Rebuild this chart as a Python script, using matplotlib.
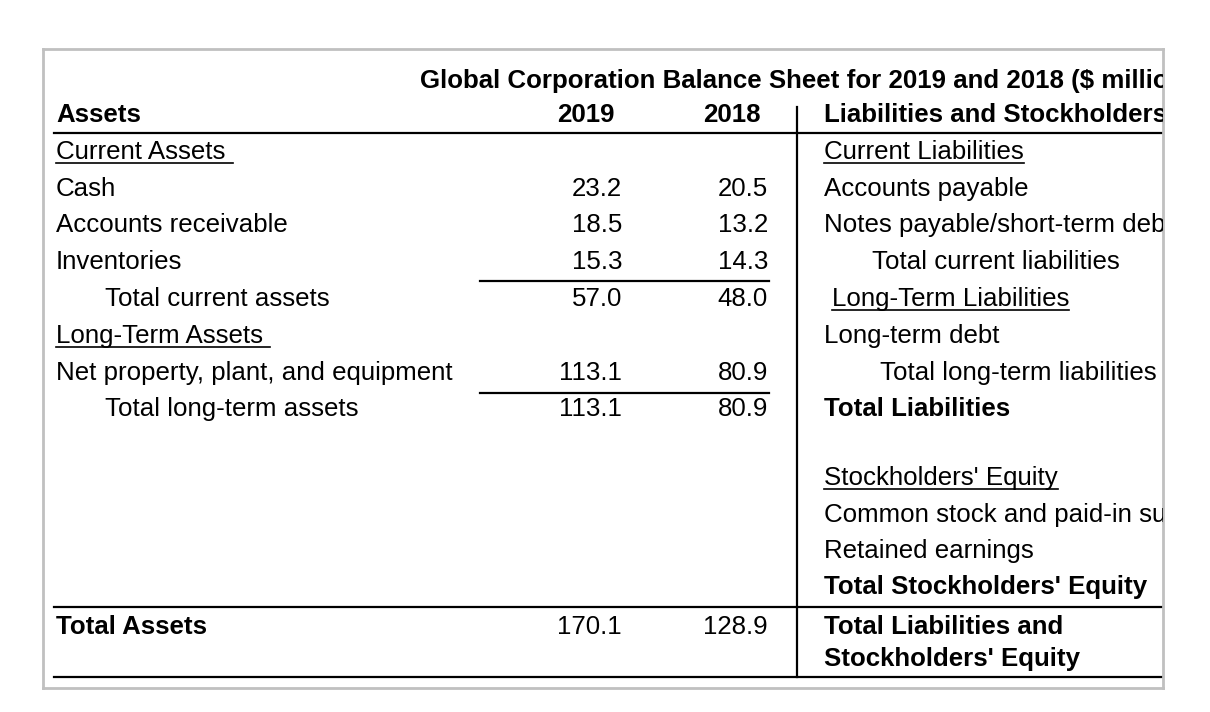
import matplotlib.pyplot as plt
from matplotlib.lines import Line2D

# ---- data read from the balance sheet ----
title = "Global Corporation Balance Sheet for 2019 and 2018 ($ millions)"
years = ["2019", "2018"]

current_assets = ["Cash", "Accounts receivable", "Inventories"]
current_2019 = [23.2, 18.5, 15.3]
current_2018 = [20.5, 13.2, 14.3]
total_current = [57.0, 48.0]

long_term_assets = ["Net property, plant, and equipment"]
long_term_2019 = [113.1]
long_term_2018 = [80.9]
total_long_term = [113.1, 80.9]

total_assets = [170.1, 128.9]

current_liabilities = ["Accounts payable", "Notes payable/short-term debt"]
long_term_liabilities = ["Long-term debt"]
equity_items = ["Common stock and paid-in surplus", "Retained earnings"]

# ---- layout (pixel coordinates) ----
FS = 18.6
plt.rcParams['font.family'] = ['Liberation Sans', 'DejaVu Sans']

fig = plt.figure(figsize=(12.1, 7.12), dpi=100)
L, R, T, B = 43, 1163, 49, 688
ax = fig.add_axes([L / 1210, 1 - B / 712, (R - L) / 1210, (B - T) / 712])
ax.set_xlim(L, R)
ax.set_ylim(B, T)
ax.set_xticks([])
ax.set_yticks([])
for s in ax.spines.values():
    s.set_color('#c0c0c0')
    s.set_linewidth(2)

x_left = 56
x_ind = 105
x_c1 = 622      # 2019 numbers (right edge)
x_c2 = 768      # 2018 numbers (right edge)
x_div = 797
x_right = 824
step = 36.8


def row(k):
    return 122 + step * k


def txt(x, y, s, bold=False, ha='left'):
    return ax.text(x, y, s, fontsize=FS, ha=ha, va='baseline',
                   fontweight='bold' if bold else 'normal', clip_on=True)


fig.canvas.draw()
renderer = fig.canvas.get_renderer()


def text_width(t):
    bb = t.get_window_extent(renderer)
    return bb.width


def underline(t, x, y, extra=0):
    w = text_width(t)
    ax.add_line(Line2D([x, x + w + extra], [y + 4, y + 4], color='black', lw=1.2))


def hline(x0, x1, y, lw=1.6):
    ax.add_line(Line2D([x0, x1], [y, y], color='black', lw=lw))


# probe width of a space
p1 = ax.text(0, 0, "a a", fontsize=FS)
p2 = ax.text(0, 0, "aa", fontsize=FS)
space_w = text_width(p1) - text_width(p2)
p1.remove()
p2.remove()

# title and header
txt(420, 88, title, bold=True)
txt(x_left, row(0), "Assets", bold=True)
txt(615, row(0), years[0], bold=True, ha='right')
txt(761, row(0), years[1], bold=True, ha='right')
txt(x_right, row(0), "Liabilities and Stockholders' Equity", bold=True)
hline(54, R, 133)
ax.add_line(Line2D([x_div, x_div], [107, 677], color='black', lw=1.6))

# ---- assets side ----
t = txt(x_left, row(1), "Current Assets")
underline(t, x_left, row(1), extra=space_w)
for i, name in enumerate(current_assets):
    y = row(2 + i)
    txt(x_left, y, name)
    txt(x_c1, y, f"{current_2019[i]:.1f}", ha='right')
    txt(x_c2, y, f"{current_2018[i]:.1f}", ha='right')
hline(480, 769, 281)
txt(x_ind, row(5), "Total current assets")
txt(x_c1, row(5), f"{total_current[0]:.1f}", ha='right')
txt(x_c2, row(5), f"{total_current[1]:.1f}", ha='right')

t = txt(x_left, row(6), "Long-Term Assets")
underline(t, x_left, row(6), extra=space_w)
for i, name in enumerate(long_term_assets):
    y = row(7 + i)
    txt(x_left, y, name)
    txt(x_c1, y, f"{long_term_2019[i]:.1f}", ha='right')
    txt(x_c2, y, f"{long_term_2018[i]:.1f}", ha='right')
hline(480, 769, 393)
txt(x_ind, row(8), "Total long-term assets")
txt(x_c1, row(8), f"{total_long_term[0]:.1f}", ha='right')
txt(x_c2, row(8), f"{total_long_term[1]:.1f}", ha='right')

hline(54, R, 607)
txt(x_left, 634, "Total Assets", bold=True)
txt(x_c1, 634, f"{total_assets[0]:.1f}", ha='right')
txt(x_c2, 634, f"{total_assets[1]:.1f}", ha='right')
hline(54, R, 677)

# ---- liabilities side ----
t = txt(x_right, row(1), "Current Liabilities")
underline(t, x_right, row(1))
for i, name in enumerate(current_liabilities):
    txt(x_right, row(2 + i), name)
txt(872, row(4), "Total current liabilities")
t = txt(832, row(5), "Long-Term Liabilities")
underline(t, 832, row(5))
for i, name in enumerate(long_term_liabilities):
    txt(x_right, row(6 + i), name)
txt(880, row(7), "Total long-term liabilities")
txt(x_right, row(8), "Total Liabilities", bold=True)

t = txt(x_right, 485, "Stockholders' Equity")
underline(t, x_right, 485)
eq_y = [522, 558]
for name, y in zip(equity_items, eq_y):
    txt(x_right, y, name)
txt(x_right, 594, "Total Stockholders' Equity", bold=True)
txt(x_right, 634, "Total Liabilities and", bold=True)
txt(x_right, 666, "Stockholders' Equity", bold=True)

fig.savefig("out.png", dpi=100)
